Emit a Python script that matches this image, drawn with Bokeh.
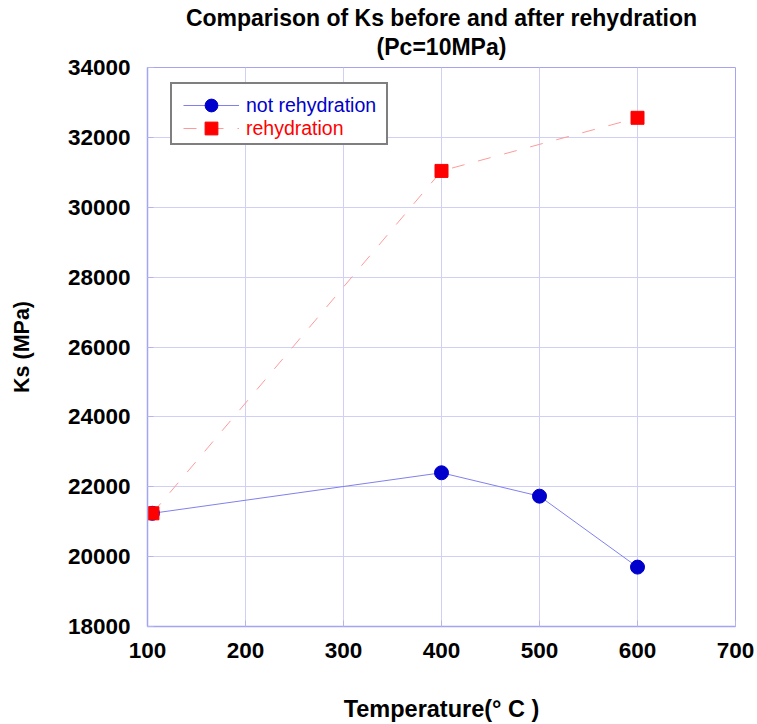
from bokeh.plotting import figure
from bokeh.models import Legend, LegendItem, Title, FixedTicker
from bokeh.embed import file_html
from bokeh.resources import INLINE

# ---- data ----
temp_not_rehyd = [105, 400, 500, 600]
ks_not_rehyd = [21240, 22400, 21730, 19700]
temp_rehyd = [105, 400, 600]
ks_rehyd = [21240, 31040, 32560]
x_ticks = [100, 200, 300, 400, 500, 600, 700]
y_ticks = [18000, 20000, 22000, 24000, 26000, 28000, 30000, 32000, 34000]

FONT = "Liberation Sans"
GRID = "#d0d0f6"
FRAME = "#a4a4f2"

p = figure(width=757, height=724, x_range=(100, 700), y_range=(18000, 34000),
           output_backend="svg", toolbar_location=None,
           title="Comparison of Ks before and after rehydration",
           min_border_left=147, min_border_right=22, min_border_top=67, min_border_bottom=98)

p.title.align = "center"
p.title.text_font = FONT
p.title.text_font_size = "23px"
p.title.text_font_style = "bold"
p.title.text_color = "black"
p.title.standoff = -15
sub_title = Title(text="(Pc=10MPa)", align="center", text_color="black",
                  text_font=FONT, text_font_size="23px", text_font_style="bold", standoff=16)
p.add_layout(sub_title, "above")

p.background_fill_color = "white"
p.border_fill_color = "white"
p.outline_line_color = FRAME
p.outline_line_width = 1

p.xaxis.ticker = FixedTicker(ticks=x_ticks)
p.yaxis.ticker = FixedTicker(ticks=y_ticks)
p.grid.grid_line_color = GRID
p.grid.grid_line_width = 1

for ax in (p.xaxis, p.yaxis):
    ax.axis_line_color = FRAME
    ax.axis_line_width = 1.5
    ax.major_tick_line_color = "#b4b4f0"
    ax.major_tick_in = 6
    ax.major_tick_out = 0
    ax.minor_tick_line_color = None
    ax.major_label_text_font = FONT
    ax.major_label_text_font_size = "22.5px"
    ax.major_label_text_font_style = "bold"
    ax.major_label_text_color = "black"
    ax.axis_label_text_font = FONT
    ax.axis_label_text_font_style = "bold"
    ax.axis_label_text_color = "black"

p.xaxis.axis_label = "Temperature(° C )"
p.yaxis.axis_label = "Ks (MPa)"
p.xaxis.axis_label_text_font_size = "23.5px"
p.yaxis.axis_label_text_font_size = "21.5px"
p.xaxis.major_label_standoff = 16
p.yaxis.major_label_standoff = 17
p.xaxis.axis_label_standoff = 35
p.yaxis.axis_label_standoff = 31

bl = p.line(temp_not_rehyd, ks_not_rehyd, line_color="#8080ee", line_width=1)
bc = p.scatter(temp_not_rehyd, ks_not_rehyd, marker="circle", size=14,
               fill_color="#0000cc", line_color="#0000cc")
rl = p.line(temp_rehyd, ks_rehyd, line_color="#ff9a9a", line_width=1, line_dash="13 14")
rs = p.scatter(temp_rehyd, ks_rehyd, marker="square", size=13,
               fill_color="#ff0000", line_color="#ff0000")
dummy = p.scatter(x=[], y=[], marker="square", size=1, fill_alpha=0, line_alpha=0)

# legend frame (a blank legend used as the bordered box)
legBox = Legend(items=[LegendItem(label=" ", renderers=[dummy])],
                location=(23, 481), border_line_color="black", border_line_width=2,
                background_fill_color="white", background_fill_alpha=1,
                padding=0, spacing=0, glyph_width=214, glyph_height=59,
                label_standoff=0, label_width=0, label_height=0,
                label_text_font=FONT, label_text_font_size="10px", margin=0)
common = dict(border_line_alpha=0, background_fill_alpha=0, padding=0, spacing=0,
              glyph_width=56, glyph_height=32, label_standoff=7, margin=0,
              label_text_font=FONT, label_text_font_size="19.5px")
legA = Legend(items=[LegendItem(label="not rehydration", renderers=[bl, bc])],
              location=(36, 505), label_text_color="#0000cc", **common)
legB = Legend(items=[LegendItem(label="rehydration", renderers=[rl, rs])],
              location=(36, 482), label_text_color="#ff0000", **common)
p.add_layout(legBox)
p.add_layout(legA)
p.add_layout(legB)

open("out.html", "w").write(file_html(p, INLINE))
